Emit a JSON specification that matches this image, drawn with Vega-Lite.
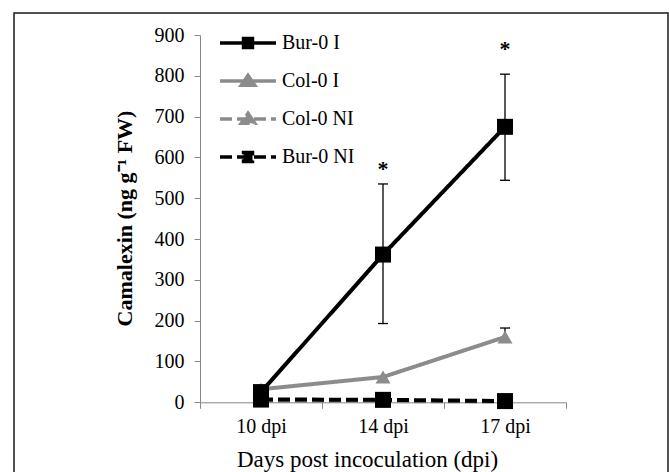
{
  "$schema": "https://vega.github.io/schema/vega-lite/v6.json",
  "width": 654,
  "height": 461,
  "autosize": {"type": "none"},
  "padding": {"left": 14, "top": 13, "right": 1, "bottom": -2},
  "background": "white",
  "config": {
    "view": {"stroke": "#1a1a1a", "strokeWidth": 1.5},
    "font": "Liberation Serif",
    "legend": {
      "orient": "none",
      "legendX": 218,
      "legendY": 14,
      "labelFont": "Liberation Serif",
      "labelFontSize": 20,
      "labelColor": "#000000",
      "symbolSize": 784,
      "symbolStrokeWidth": 3.5,
      "rowPadding": 10,
      "labelOffset": 18,
      "labelLimit": 300
    }
  },
  "datasets": {
    "main": [
      {"series": "Col-0 NI", "dpi": "10 dpi", "v": 3},
      {"series": "Col-0 NI", "dpi": "14 dpi", "v": 3},
      {"series": "Col-0 NI", "dpi": "17 dpi", "v": 2},
      {"series": "Bur-0 NI", "dpi": "10 dpi", "v": 7},
      {"series": "Bur-0 NI", "dpi": "14 dpi", "v": 6},
      {"series": "Bur-0 NI", "dpi": "17 dpi", "v": 3},
      {"series": "Col-0 I", "dpi": "10 dpi", "v": 32},
      {"series": "Col-0 I", "dpi": "14 dpi", "v": 62},
      {"series": "Col-0 I", "dpi": "17 dpi", "v": 160},
      {"series": "Bur-0 I", "dpi": "10 dpi", "v": 25},
      {"series": "Bur-0 I", "dpi": "14 dpi", "v": 362},
      {"series": "Bur-0 I", "dpi": "17 dpi", "v": 675}
    ],
    "err": [
      {"dpi": "14 dpi", "lo": 193, "hi": 535},
      {"dpi": "17 dpi", "lo": 544, "hi": 804},
      {"dpi": "17 dpi", "lo": 160, "hi": 182}
    ],
    "caps": [
      {"dpi": "14 dpi", "c": 193},
      {"dpi": "14 dpi", "c": 535},
      {"dpi": "17 dpi", "c": 544},
      {"dpi": "17 dpi", "c": 804},
      {"dpi": "17 dpi", "c": 182}
    ],
    "stars": [
      {"dpi": "14 dpi", "s": 555, "t": "*"},
      {"dpi": "17 dpi", "s": 848, "t": "*"}
    ]
  },
  "encoding": {
    "x": {
      "field": "dpi",
      "type": "nominal",
      "scale": {"domain": ["10 dpi", "14 dpi", "17 dpi"], "paddingInner": 0, "paddingOuter": 0, "range": [186, 552]},
      "axis": {
        "title": "Days post incoculation (dpi)",
        "titleFont": "Liberation Serif",
        "titleFontSize": 23,
        "titleFontWeight": "normal",
        "titleColor": "#000000",
        "titleX": 353,
        "titleY": 64,
        "titleAlign": "center",
        "titleBaseline": "alphabetic",
        "domain": true,
        "domainColor": "#888888",
        "domainWidth": 1,
        "grid": false,
        "tickBand": "extent",
        "tickSize": 6,
        "tickColor": "#888888",
        "tickWidth": 1,
        "labelAngle": 0,
        "labelFont": "Liberation Serif",
        "labelFontSize": 20,
        "labelColor": "#000000",
        "labelPadding": 8,
        "offset": -71.7
      }
    },
    "y": {
      "type": "quantitative",
      "scale": {"domain": [0, 900], "range": [389.3, 22], "nice": false, "zero": false},
      "axis": {
        "title": "Camalexin (ng g⁻¹ FW)",
        "titleFont": "Liberation Serif",
        "titleFontSize": 22,
        "titleFontWeight": "bold",
        "titleColor": "#000000",
        "titleAngle": -90,
        "titleX": -76,
        "titleY": 205,
        "titleAlign": "center",
        "titleBaseline": "middle",
        "values": [0, 100, 200, 300, 400, 500, 600, 700, 800, 900],
        "format": "d",
        "domain": true,
        "domainColor": "#888888",
        "domainWidth": 1,
        "grid": false,
        "tickSize": 6,
        "tickColor": "#888888",
        "tickWidth": 1,
        "labelFont": "Liberation Serif",
        "labelFontSize": 20,
        "labelColor": "#000000",
        "labelPadding": 10,
        "offset": -186
      }
    }
  },
  "layer": [
    {
      "data": {"name": "err"},
      "mark": {"type": "rule", "color": "#000000", "strokeWidth": 1.3},
      "encoding": {
        "y": {"field": "lo", "type": "quantitative"},
        "y2": {"field": "hi"}
      }
    },
    {
      "data": {"name": "caps"},
      "mark": {"type": "tick", "color": "#000000", "thickness": 1.3, "size": 10, "opacity": 1, "orient": "horizontal"},
      "encoding": {
        "y": {"field": "c", "type": "quantitative"}
      }
    },
    {
      "data": {"name": "main"},
      "mark": {"type": "line", "strokeWidth": 4},
      "encoding": {
        "y": {"field": "v", "type": "quantitative"},
        "color": {
          "field": "series",
          "type": "nominal",
          "scale": {"domain": ["Bur-0 I", "Col-0 I", "Col-0 NI", "Bur-0 NI"], "range": ["#000000", "#8c8c8c", "#8c8c8c", "#000000"]},
          "legend": {
            "title": null,
            "encode": {
              "symbols": {
                "update": {
                  "shape": {"signal": "indexof(datum.value, 'Bur') === 0 ? 'M-2,0H2M-0.32,-0.32H0.32V0.32H-0.32Z' : 'M-2,0H2M0,-0.4L0.48,0.3H-0.48Z'"},
                  "fill": {"scale": "color", "field": "value"},
                  "stroke": {"scale": "color", "field": "value"},
                  "strokeWidth": {"value": 3.5},
                  "opacity": {"value": 1}
                }
              }
            }
          }
        },
        "strokeDash": {
          "field": "series",
          "type": "nominal",
          "scale": {"domain": ["Bur-0 I", "Col-0 I", "Col-0 NI", "Bur-0 NI"], "range": [[1, 0], [1, 0], [12, 5], [12, 5]]},
          "legend": {"title": null}
        }
      }
    },
    {
      "data": {"name": "main"},
      "transform": [{"filter": "indexof(datum.series, 'Col') === 0"}],
      "mark": {"type": "point", "shape": "triangle-up", "size": 225, "filled": true, "opacity": 1, "strokeWidth": 0},
      "encoding": {
        "y": {"field": "v", "type": "quantitative"},
        "color": {"field": "series", "type": "nominal", "legend": null}
      }
    },
    {
      "data": {"name": "main"},
      "transform": [{"filter": "indexof(datum.series, 'Bur') === 0"}],
      "mark": {"type": "point", "shape": "square", "size": 256, "filled": true, "opacity": 1, "strokeWidth": 0},
      "encoding": {
        "y": {"field": "v", "type": "quantitative"},
        "color": {"field": "series", "type": "nominal", "legend": null}
      }
    },
    {
      "data": {"name": "stars"},
      "mark": {"type": "text", "font": "Liberation Serif", "fontSize": 22, "fontWeight": "bold", "baseline": "alphabetic", "align": "center", "color": "#000000"},
      "encoding": {
        "y": {"field": "s", "type": "quantitative"},
        "text": {"field": "t"}
      }
    }
  ]
}
